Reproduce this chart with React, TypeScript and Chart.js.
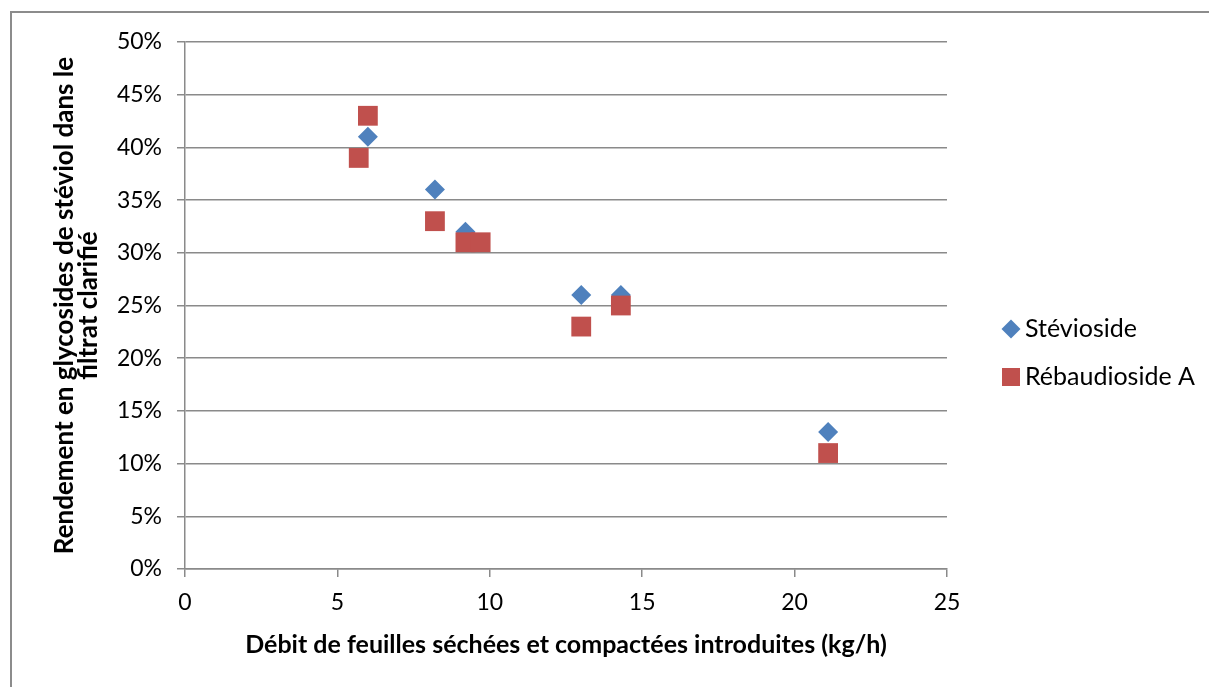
import React, { useEffect, useRef } from "react";
import { Chart, registerables } from "chart.js";

Chart.register(...registerables);

const steviosideX = [6.0, 8.2, 9.2, 13.0, 14.3, 21.1];
const steviosideY = [41, 36, 32, 26, 26, 13];
const rebaudiosideX = [5.7, 6.0, 8.2, 9.2, 9.7, 13.0, 14.3, 21.1];
const rebaudiosideY = [39, 43, 33, 31, 31, 23, 25, 11];
const seriesNames = ["Stévioside", "Rébaudioside A"];
const xTitle = "Débit de feuilles séchées et compactées introduites (kg/h)";
const yTitle = ["Rendement en glycosides de stéviol dans le", "filtrat clarifié"];

const BLUE = "#4F81BD";
const RED = "#C0504D";
const GRID = "#8a8a8a";
const FONT = "Lato, 'Open Sans', sans-serif";

const legendPlugin = {
  id: "customLegend",
  afterDraw(chart: any) {
    const ctx = chart.ctx;
    ctx.save();
    const x0 = 1011;
    const items = [
      { y: 329, color: BLUE, shape: "diamond", label: seriesNames[0] },
      { y: 377, color: RED, shape: "square", label: seriesNames[1] },
    ];
    for (const it of items) {
      ctx.fillStyle = it.color;
      ctx.beginPath();
      if (it.shape === "diamond") {
        ctx.moveTo(x0 - 9.5, it.y);
        ctx.lineTo(x0, it.y - 9.5);
        ctx.lineTo(x0 + 9.5, it.y);
        ctx.lineTo(x0, it.y + 9.5);
        ctx.closePath();
      } else {
        ctx.rect(x0 - 9, it.y - 9, 18, 18);
      }
      ctx.fill();
      ctx.fillStyle = "#000";
      ctx.font = `25px ${FONT}`;
      ctx.textBaseline = "middle";
      ctx.textAlign = "left";
      ctx.fillText(it.label, 1025, it.y);
    }
    ctx.restore();
  },
};

export default function App() {
  const ref = useRef<HTMLCanvasElement | null>(null);
  useEffect(() => {
    if (!ref.current) return;
    const chart = new Chart(ref.current, {
      type: "scatter",
      data: {
        datasets: [
          {
            label: seriesNames[0],
            data: steviosideX.map((x, i) => ({ x, y: steviosideY[i] })),
            backgroundColor: BLUE,
            borderColor: BLUE,
            pointStyle: "rectRot",
            pointRadius: 10,
            pointHoverRadius: 10,
            borderWidth: 0,
            order: 1,
          },
          {
            label: seriesNames[1],
            data: rebaudiosideX.map((x, i) => ({ x, y: rebaudiosideY[i] })),
            backgroundColor: RED,
            borderColor: RED,
            pointStyle: "rect",
            pointRadius: 14,
            pointHoverRadius: 14,
            borderWidth: 0,
            order: 0,
          },
        ],
      },
      options: {
        responsive: false,
        animation: false,
        layout: { padding: { top: 42, right: 262, bottom: 0, left: 0 } },
        plugins: {
          legend: { display: false },
          tooltip: { enabled: false },
        },
        scales: {
          x: {
            type: "linear",
            min: 0,
            max: 25,
            afterFit: (s: any) => {
              s.height = 118;
            },
            ticks: {
              stepSize: 5,
              color: "#000",
              padding: 12,
              font: { family: FONT, size: 23 },
            },
            grid: {
              drawOnChartArea: false,
              drawTicks: true,
              tickLength: 8,
              color: GRID,
              lineWidth: 1.5,
            },
            border: { display: true, color: GRID, width: 1.5 },
            title: {
              display: true,
              text: xTitle,
              color: "#000",
              font: { family: FONT, size: 25, weight: "bold", lineHeight: 1.2 },
              padding: { top: 0, bottom: 27 },
            },
          },
          y: {
            type: "linear",
            min: 0,
            max: 50,
            afterFit: (s: any) => {
              s.width = 185;
            },
            ticks: {
              stepSize: 5,
              color: "#000",
              padding: 15,
              font: { family: FONT, size: 23 },
              callback: (v: any) => `${v}%`,
            },
            grid: {
              drawTicks: true,
              tickLength: 8,
              color: GRID,
              lineWidth: 1.5,
            },
            border: { display: true, color: GRID, width: 1.5 },
            title: {
              display: true,
              text: yTitle,
              color: "#000",
              font: { family: FONT, size: 26, weight: "bold", lineHeight: "24px" },
              padding: { top: 53, bottom: 0 },
            },
          },
        },
      },
      plugins: [legendPlugin],
    });
    return () => chart.destroy();
  }, []);

  return (
    <div
      style={{
        position: "fixed",
        left: 0,
        top: 0,
        width: 1209,
        height: 687,
        overflow: "hidden",
        background: "#fff",
      }}
    >
      <div
        style={{
          position: "absolute",
          left: 10,
          top: 11,
          width: 1300,
          height: 800,
          borderLeft: "2px solid #8c8c8c",
          borderTop: "2px solid #8c8c8c",
        }}
      />
      <canvas
        ref={ref}
        width={1209}
        height={687}
        style={{ position: "absolute", left: 0, top: 0, width: 1209, height: 687 }}
      />
    </div>
  );
}
